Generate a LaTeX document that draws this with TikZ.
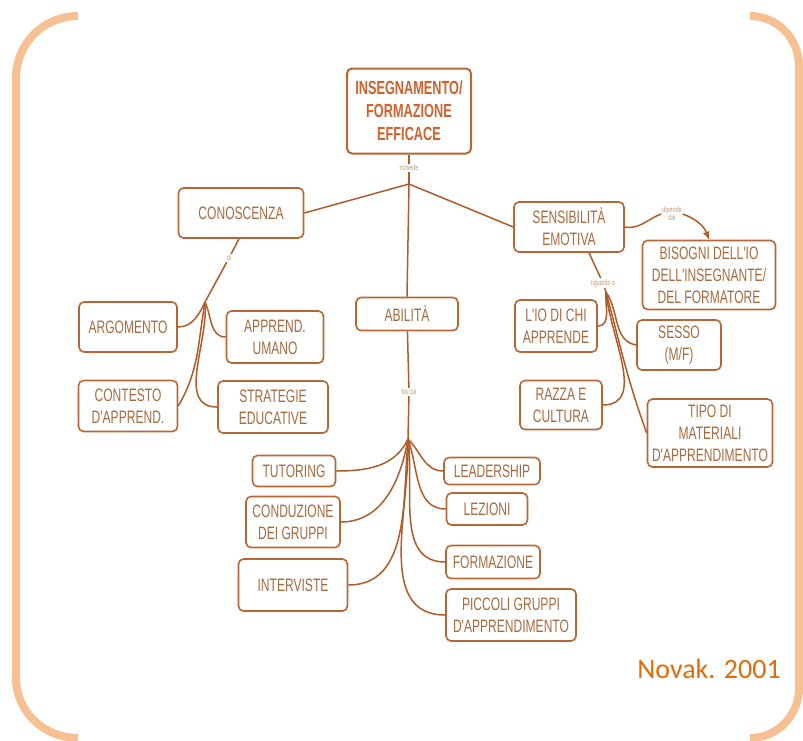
\documentclass[tikz,border=0pt]{standalone}
\usepackage{fontspec}
\usepackage{xcolor}
\usepackage{tikz}
\usetikzlibrary{arrows.meta}

\newfontfamily\cmapfont[FakeStretch=0.67]{Liberation Sans}
\newfontfamily\novakfont{Carlito}

\definecolor{framec}{RGB}{247,192,146}
\definecolor{boxc}{RGB}{184,102,52}
\definecolor{linec}{RGB}{176,92,42}
\definecolor{txtc}{RGB}{168,106,63}
\definecolor{topc}{RGB}{210,98,44}
\definecolor{lblc}{RGB}{190,150,110}
\definecolor{novakc}{RGB}{227,108,9}

\tikzset{
    concept/.style={draw=boxc, line width=1.6pt, rounded corners=5pt, fill=white, text=txtc, align=center, inner sep=2pt,
                    font=\cmapfont\fontsize{18}{22}\selectfont},
    link/.style={draw=linec, line width=1.5pt},
    lbl/.style={text=lblc, inner sep=1pt, align=center, font=\cmapfont\fontsize{8}{8}\selectfont}
}

\begin{document}
\begin{tikzpicture}[x=1pt, y=-1pt]
        \useasboundingbox (0,0) rectangle (803,740);

        % frame
        \draw[framec, line width=8pt] (78,16) to[out=180,in=90] (16,78) -- (16,678) to[out=-90,in=180] (78,738);
        \draw[framec, line width=8pt] (750,16) to[out=0,in=90] (799,66) -- (799,688) to[out=-90,in=0] (750,738);

        % concepts
        \node (top)     at (409,111)  [concept, line width=2pt, minimum width=124, minimum height=85, text=topc,
                                       font=\cmapfont\bfseries\fontsize{19}{23}\selectfont] {INSEGNAMENTO/\\FORMAZIONE\\EFFICACE};
        \node (con)     at (241,213)  [concept, minimum width=125, minimum height=50] {CONOSCENZA};
        \node (sens)    at (569,227)  [concept, minimum width=110, minimum height=50] {SENSIBILITÀ\\EMOTIVA};
        \node (abil)    at (407,314)  [concept, minimum width=102, minimum height=33] {ABILITÀ};
        \node (bis)     at (709,275)  [concept, minimum width=133, minimum height=69] {BISOGNI DELL'IO\\DELL'INSEGNANTE/\\DEL FORMATORE};

        \node (arg)     at (128,327)  [concept, minimum width=98,  minimum height=50] {ARGOMENTO};
        \node (app)     at (275,337)  [concept, minimum width=97,  minimum height=52] {APPREND.\\UMANO};
        \node (cont)    at (128,406)  [concept, minimum width=99,  minimum height=51] {CONTESTO\\D'APPREND.};
        \node (strat)   at (273,407)  [concept, minimum width=110, minimum height=52] {STRATEGIE\\EDUCATIVE};

        \node (lio)     at (556,326)  [concept, minimum width=82,  minimum height=52] {L'IO DI CHI\\APPRENDE};
        \node (sesso)   at (679,345)  [concept, minimum width=84,  minimum height=50] {SESSO\\(M/F)};
        \node (razza)   at (561,405)  [concept, minimum width=82,  minimum height=49] {RAZZA E\\CULTURA};
        \node (tipo)    at (710,433)  [concept, minimum width=125, minimum height=68] {TIPO DI\\MATERIALI\\D'APPRENDIMENTO};

        \node (tut)     at (294,471)  [concept, minimum width=83,  minimum height=31] {TUTORING};
        \node (cond)    at (293,522)  [concept, minimum width=94,  minimum height=51] {CONDUZIONE\\DEI GRUPPI};
        \node (interv)  at (293,585)  [concept, minimum width=109, minimum height=52] {INTERVISTE};
        \node (lead)    at (492,471)  [concept, minimum width=96,  minimum height=27] {LEADERSHIP};
        \node (lez)     at (487,509)  [concept, minimum width=81,  minimum height=32] {LEZIONI};
        \node (form)    at (493,562)  [concept, minimum width=94,  minimum height=33] {FORMAZIONE};
        \node (picc)    at (511,615)  [concept, minimum width=130, minimum height=52] {PICCOLI GRUPPI\\D'APPRENDIMENTO};

        % linking words
        \node (rich)    at (409,168)  [lbl] {richiede};
        \node (di)      at (229,258)  [lbl] {di};
        \node (dip)     at (672,214)  [lbl] {dipende\\dai};
        \node (rig)     at (603,283)  [lbl] {riguardo a};
        \node (tra)     at (409,392)  [lbl] {tra cui};

        \coordinate (topbr)  at (409,184);
        \coordinate (conbr)  at (205,302);
        \coordinate (sensbr) at (606,292);
        \coordinate (abilbr) at (408,439);

        % links
        \draw[link] (top) -- (rich) -- (topbr);
        \draw[link] (topbr) -- (con.east);
        \draw[link] (topbr) -- (sens.west);
        \draw[link] (topbr) -- (abil.north);

        \draw[link] (con.south) ++(-2,0) -- (di) -- (conbr);
        \draw[link] (conbr) to[out=-115,in=0]  (arg.east);
        \draw[link] (conbr) to[out=-100,in=60] (cont.east);
        \draw[link] (conbr) to[out=-65,in=180] (app.west);
        \draw[link] (conbr) to[out=-85,in=180] (strat.west);

        \draw[link] (sens.east) to[out=-10,in=200] (dip.west);
        \draw[link, -{Latex[length=8pt,width=7pt]}] (dip.east) to[out=-20,in=110] (bis.north);
        \draw[link] (sens.south) ++(20,0) -- (rig) -- (sensbr);
        \draw[link] (sensbr) to[out=-95,in=0]   (lio.east);
        \draw[link] (sensbr) to[out=-85,in=0]   (razza.east);
        \draw[link] (sensbr) to[out=-55,in=170] (sesso.west);
        \draw[link] (sensbr) to[out=-75,in=110] (tipo.west);

        \draw[link] (abil) -- (tra) -- (abilbr);
        \draw[link] (abilbr) to[out=-115,in=0]  (tut.east);
        \draw[link] (abilbr) to[out=-100,in=0]  (cond.east);
        \draw[link] (abilbr) to[out=-95,in=0]   (interv.east);
        \draw[link] (abilbr) to[out=-45,in=180] (lead.west);
        \draw[link] (abilbr) to[out=-70,in=180] (lez.west);
        \draw[link] (abilbr) to[out=-82,in=180] (form.west);
        \draw[link] (abilbr) to[out=-88,in=180] (picc.west);

        \node (novak) at (709,669) [text=novakc, font=\novakfont\fontsize{28}{30}\selectfont] {Novak. 2001};
    \end{tikzpicture}
\end{document}
